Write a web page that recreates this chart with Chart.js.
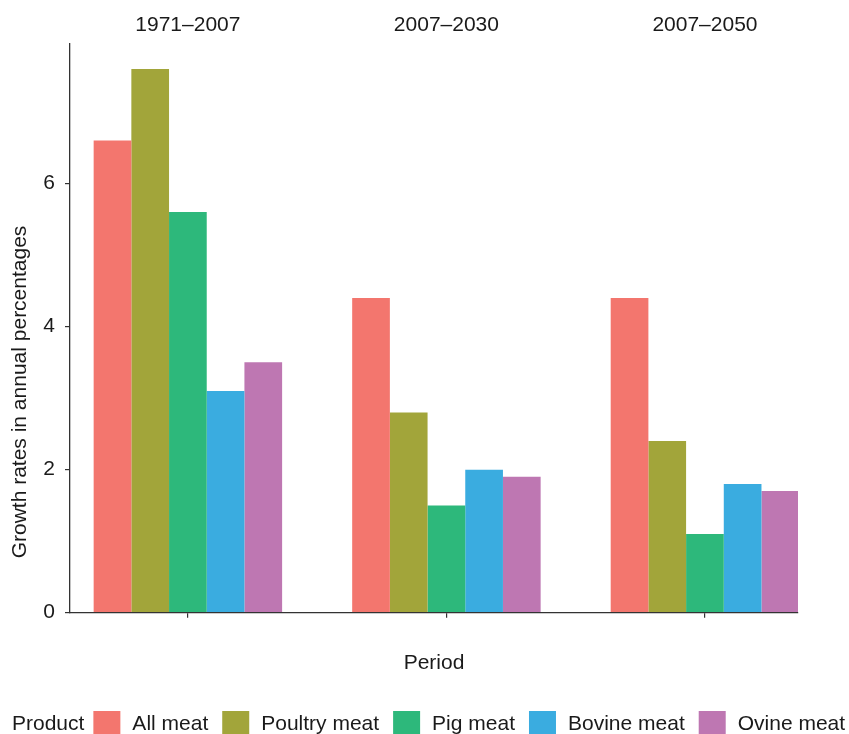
<!DOCTYPE html>
<html>
<head>
<meta charset="utf-8">
<script src="https://cdn.jsdelivr.net/npm/chart.js@4/dist/chart.umd.min.js"></script>
<style>
  html, body { margin: 0; padding: 0; background: #fff; }
  #wrap { width: 849px; height: 734px; position: relative; }
</style>
</head>
<body>
<div id="wrap"><canvas id="chart"></canvas></div>
<script>
// Data
const periods = ['1971–2007', '2007–2030', '2007–2050'];
const products = ['All meat', 'Poultry meat', 'Pig meat', 'Bovine meat', 'Ovine meat'];
const allMeat = [6.6, 4.4, 4.4];
const poultryMeat = [7.6, 2.8, 2.4];
const pigMeat = [5.6, 1.5, 1.1];
const bovineMeat = [3.1, 2.0, 1.8];
const ovineMeat = [3.5, 1.9, 1.7];
const yTicks = [0, 2, 4, 6];

const colors = ['#F3766E', '#A2A53A', '#2DB87B', '#3AACE0', '#BE77B2'];
const FONT = '"Liberation Sans", Arial, Helvetica, sans-serif';
const TEXT = '#1a1a1a';
const AXIS = '#333333';

const series = [allMeat, poultryMeat, pigMeat, bovineMeat, ovineMeat];
const datasets = series.map((vals, i) => ({
    label: products[i],
    data: vals.map((v, j) => ({ x: j, y: v })),
    backgroundColor: colors[i],
    borderWidth: 0
}));

const xMin = -0.456, xMax = 2.36;
const periodTicks = periods.map((p, i) => ({ value: i }));

// y title + legend ("Product" sits inline, ggplot style)
const extras = {
    id: 'extras',
    afterDraw(chart) {
        const ctx = chart.ctx;
        ctx.save();
        ctx.fillStyle = TEXT;
        ctx.font = '21px ' + FONT;

        // y axis title
        ctx.save();
        ctx.translate(20, 392);
        ctx.rotate(-Math.PI / 2);
        ctx.textAlign = 'center';
        ctx.textBaseline = 'middle';
        ctx.fillText('Growth rates in annual percentages', 0, 0);
        ctx.restore();

        // legend
        const baseY = 730;
        ctx.textAlign = 'left';
        ctx.textBaseline = 'alphabetic';
        let x = 12;
        ctx.fillText('Product', x, baseY);
        x += ctx.measureText('Product').width + 9;
        chart.data.datasets.forEach(ds => {
            ctx.fillStyle = ds.backgroundColor;
            ctx.fillRect(x, 711, 27, 27);
            x += 27 + 12;
            ctx.fillStyle = TEXT;
            ctx.fillText(ds.label, x, baseY);
            x += ctx.measureText(ds.label).width + 14;
        });
        ctx.restore();
    }
};

new Chart(document.getElementById('chart'), {
    type: 'bar',
    data: { datasets },
    plugins: [extras],
    options: {
        responsive: true,
        maintainAspectRatio: false,
        animation: false,
        layout: { padding: { top: 0, right: 51, bottom: 0, left: 0 } },
        datasets: {
            bar: { categoryPercentage: 0.729, barPercentage: 1.0 }
        },
        plugins: {
            legend: { display: false },
            tooltip: { enabled: false }
        },
        scales: {
            x: {
                type: 'linear',
                position: 'bottom',
                offset: false,
                min: xMin,
                max: xMax,
                afterBuildTicks: s => { s.ticks = periodTicks.map(t => ({ value: t.value })); },
                afterFit: s => { s.height = 121.3; },
                ticks: { display: true, callback: () => '', font: { size: 21, family: FONT } },
                grid: { offset: false, drawOnChartArea: false, drawTicks: true, tickLength: 5, color: AXIS, lineWidth: 1.2 },
                border: { display: true, color: AXIS, width: 1.3 },
                title: {
                    display: true,
                    text: 'Period',
                    color: TEXT,
                    font: { size: 21, family: FONT },
                    padding: { top: 0, bottom: 58 }
                }
            },
            xTop: {
                type: 'linear',
                position: 'top',
                offset: false,
                min: xMin,
                max: xMax,
                afterBuildTicks: s => { s.ticks = periodTicks.map(t => ({ value: t.value })); },
                afterFit: s => { s.height = 44; },
                ticks: {
                    color: TEXT,
                    padding: -2,
                    maxRotation: 0,
                    autoSkip: false,
                    font: { size: 21, family: FONT },
                    callback: v => periods[v] ?? ''
                },
                grid: { display: false, offset: false },
                border: { display: false }
            },
            y: {
                min: 0,
                max: 7.95,
                afterBuildTicks: s => { s.ticks = yTicks.map(v => ({ value: v })); },
                afterFit: s => { s.width = 70; },
                ticks: {
                    color: TEXT,
                    padding: 10,
                    font: { size: 21, family: FONT }
                },
                grid: { drawOnChartArea: false, drawTicks: true, tickLength: 5, color: AXIS, lineWidth: 1.2 },
                border: { display: true, color: AXIS, width: 1.3 }
            }
        }
    }
});
</script>
</body>
</html>
